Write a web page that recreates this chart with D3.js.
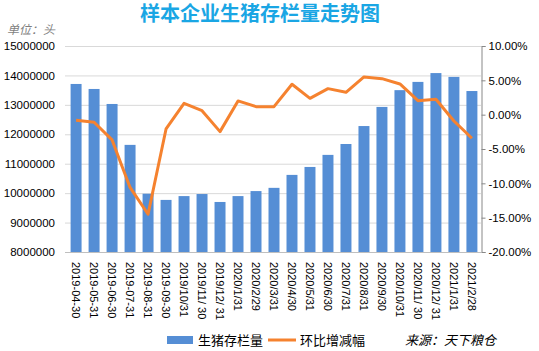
<!DOCTYPE html>
<html>
<head>
<meta charset="utf-8">
<script src="https://cdn.jsdelivr.net/npm/d3@7"></script>
<style>
  body { margin: 0; background: #fff; }
  text { font-family: "Liberation Sans", "Noto Sans CJK SC", sans-serif; }
</style>
</head>
<body>
<svg id="chart" width="539" height="351"></svg>
<script>
const dates = ["2019-04-30", "2019-05-31", "2019-06-30", "2019-07-31", "2019-08-31", "2019-09-30",
  "2019/10/31", "2019/11/ 30", "2019/12/ 31", "2020/1/31", "2020/2/29", "2020/3/31", "2020/4/30",
  "2020/5/31", "2020/6/30", "2020/7/31", "2020/8/31", "2020/9/30", "2020/10/31", "2020/11/ 30",
  "2020/12/ 31", "2021/1/31", "2021/2/28"];

// 生猪存栏量 (头)
const stock = [13710000, 13540000, 13030000, 11640000, 9980000, 9770000, 9900000, 9970000, 9700000,
  9900000, 10070000, 10180000, 10620000, 10890000, 11300000, 11670000, 12280000, 12930000,
  13500000, 13780000, 14080000, 13950000, 13470000];

// 环比增减幅 (%)
const change = [-0.82, -1.11, -3.68, -10.6, -14.5, -2.08, 1.66, 0.58, -2.47, 2.0, 1.17, 1.17,
  4.43, 2.38, 3.79, 3.26, 5.49, 5.24, 4.47, 2.04, 2.24, -0.92, -3.44];

const leftTicks = d3.range(8000000, 15000001, 1000000);
const rightTicks = d3.range(-20, 10.01, 5);

const svg = d3.select("#chart");
const plotL = 67, plotR = 481, plotT = 46, plotB = 252;

const x = d3.scaleBand().domain(dates).range([plotL, plotR]).paddingInner(0.39).paddingOuter(0.2);
const y = d3.scaleLinear().domain([8000000, 15000000]).range([plotB, plotT]);
const y2 = d3.scaleLinear().domain([-20, 10]).range([plotB, plotT]);

// title
svg.append("text")
  .attr("x", 260).attr("y", 21)
  .attr("text-anchor", "middle")
  .attr("font-size", 20).attr("font-weight", "bold")
  .attr("fill", "#1aa6e4")
  .text("样本企业生猪存栏量走势图");

svg.append("text")
  .attr("x", 7).attr("y", 34)
  .attr("font-size", 12).attr("font-style", "italic")
  .attr("fill", "#7f7f7f")
  .text("单位：头");

// gridlines
svg.append("g")
  .selectAll("line")
  .data(leftTicks)
  .join("line")
  .attr("x1", 65).attr("x2", plotR)
  .attr("y1", d => y(d) + 0.5).attr("y2", d => y(d) + 0.5)
  .attr("stroke", "#d9d9d9");

// left axis
const yAxis = svg.append("g")
  .attr("transform", `translate(${plotL},0)`)
  .call(d3.axisLeft(y).tickValues(leftTicks).tickSize(0).tickPadding(12).tickFormat(d3.format("d")));
yAxis.select(".domain").remove();
yAxis.selectAll("text").attr("font-size", 11.5).attr("fill", "#000");

// right axis
const y2Axis = svg.append("g")
  .attr("transform", `translate(${plotR + 0.5},0)`)
  .call(d3.axisRight(y2).tickValues(rightTicks).tickSize(4).tickPadding(3).tickFormat(d => d.toFixed(2) + "%"));
y2Axis.select(".domain").attr("stroke", "#888");
y2Axis.selectAll(".tick line").attr("stroke", "#888");
y2Axis.selectAll("text").attr("font-size", 11.5).attr("fill", "#000");

// bars
svg.append("g")
  .selectAll("rect")
  .data(stock)
  .join("rect")
  .attr("x", (d, i) => x(dates[i]))
  .attr("width", x.bandwidth())
  .attr("y", d => y(d))
  .attr("height", d => plotB - y(d))
  .attr("fill", "#558ed5");

// bottom axis
const xAxis = svg.append("g")
  .attr("transform", `translate(0,${plotB})`)
  .call(d3.axisBottom(x).tickSize(0).tickPadding(0));
xAxis.select(".domain").attr("d", `M65,0.5H${plotR}`).attr("stroke", "#bfbfbf");
xAxis.selectAll("text")
  .attr("font-size", 11)
  .attr("fill", "#000")
  .attr("text-anchor", "start")
  .attr("y", 0)
  .attr("dy", "0.35em")
  .attr("transform", "translate(0,10) rotate(90)");

// line
const line = d3.line()
  .x((d, i) => x(dates[i]) + x.bandwidth() / 2)
  .y(d => y2(d));
svg.append("path")
  .datum(change)
  .attr("d", line)
  .attr("fill", "none")
  .attr("stroke", "#f5822f")
  .attr("stroke-width", 3)
  .attr("stroke-linejoin", "round");

// legend
const lg = svg.append("g").attr("transform", "translate(0,340)");
lg.append("rect").attr("x", 167).attr("y", -4).attr("width", 26).attr("height", 8).attr("fill", "#558ed5");
lg.append("text").attr("x", 198).attr("y", 5).attr("font-size", 13).text("生猪存栏量");
lg.append("line").attr("x1", 268).attr("x2", 296).attr("y1", 0).attr("y2", 0)
  .attr("stroke", "#f5822f").attr("stroke-width", 3);
lg.append("text").attr("x", 300).attr("y", 5).attr("font-size", 13).text("环比增减幅");
lg.append("text").attr("x", 405).attr("y", 5).attr("font-size", 13).attr("font-style", "italic")
  .text("来源：天下粮仓");
</script>
</body>
</html>
